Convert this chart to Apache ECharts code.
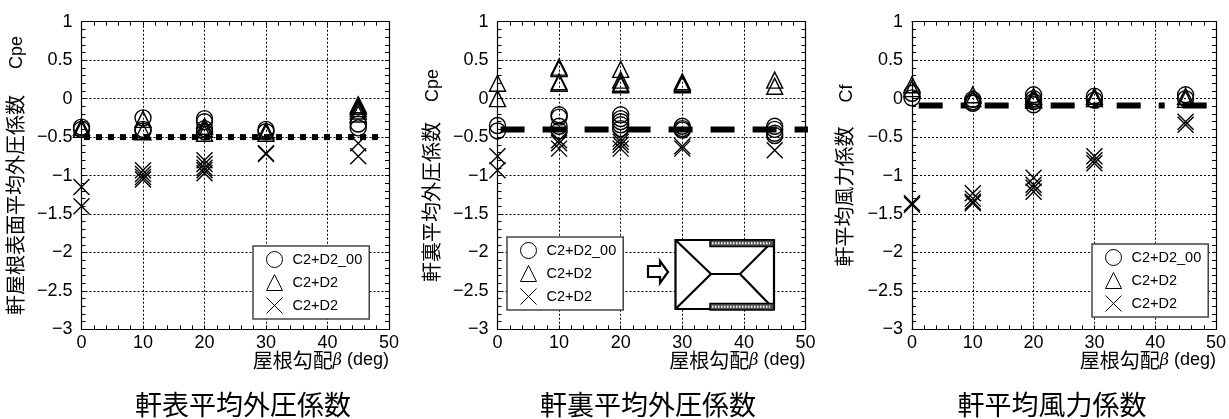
<!DOCTYPE html>
<html><head><meta charset="utf-8">
<style>html,body{margin:0;padding:0;background:#fff}#c{width:1229px;height:419px}</style>
<script src="https://cdn.jsdelivr.net/npm/echarts@6/dist/echarts.min.js"></script>
</head><body><div id="c"></div>
<script>
const seriesNames = ['C2+D2_00', 'C2+D2', 'C2+D2 '];
const chartTitles = ['軒表平均外圧係数', '軒裏平均外圧係数', '軒平均風力係数'];
const yNames = ['軒屋根表面平均外圧係数', '軒裏平均外圧係数', '軒平均風力係数'];
const yUnits = ['Cpe', 'Cpe', 'Cf'];
const xName = '屋根勾配';

const a_circle = [[0,-0.37],[0,-0.4],[10,-0.25],[10,-0.4],[10,-0.42],[20,-0.26],[20,-0.3],[20,-0.39],[20,-0.43],[30,-0.4],[30,-0.43],[45,-0.33],[45,-0.38]];
const a_tri = [[0,-0.37],[0,-0.4],[10,-0.27],[10,-0.43],[20,-0.36],[20,-0.4],[20,-0.45],[30,-0.42],[30,-0.45],[45,-0.08],[45,-0.1],[45,-0.13],[45,-0.16],[45,-0.2]];
const a_cross = [[0,-1.15],[0,-1.4],[10,-0.93],[10,-0.98],[10,-1.02],[10,-1.05],[20,-0.8],[20,-0.85],[20,-0.9],[20,-0.93],[20,-0.97],[30,-0.71],[30,-0.72],[45,-0.58],[45,-0.75]];
const a_line = [[0.4,-0.5],[48.8,-0.5]];

const b_circle = [[0,-0.35],[0,-0.42],[10,-0.21],[10,-0.24],[10,-0.36],[10,-0.42],[20,-0.21],[20,-0.26],[20,-0.3],[20,-0.34],[20,-0.39],[30,-0.36],[30,-0.39],[30,-0.41],[45,-0.36],[45,-0.4],[45,-0.45],[45,-0.48]];
const b_tri = [[0,0.2],[0,0],[10,0.41],[10,0.39],[10,0.22],[10,0.2],[20,0.38],[20,0.24],[20,0.2],[20,0.18],[30,0.22],[30,0.2],[30,0.18],[45,0.24],[45,0.16]];
const b_cross = [[0,-0.75],[0,-0.93],[10,-0.54],[10,-0.58],[10,-0.65],[20,-0.52],[20,-0.56],[20,-0.6],[20,-0.65],[30,-0.62],[30,-0.65],[45,-0.67]];
const b_line = [[0.5,-0.4],[50.4,-0.4]];

const c_circle = [[0,0.07],[0,0.01],[10,-0.01],[10,-0.04],[10,-0.06],[20,0.05],[20,0],[20,-0.04],[20,-0.08],[30,0.03],[30,-0.02],[45,0.05],[45,0]];
const c_tri = [[0,0.18],[0,0.13],[10,0.05],[10,0],[20,0.03],[20,0],[20,-0.02],[30,0.03],[30,0],[45,0.03],[45,-0.01]];
const c_cross = [[0,-1.36],[0,-1.38],[10,-1.23],[10,-1.3],[10,-1.34],[10,-1.36],[20,-1.03],[20,-1.12],[20,-1.16],[20,-1.21],[30,-0.75],[30,-0.8],[30,-0.84],[45,-0.3],[45,-0.34]];
const c_line = [[1.1,-0.09],[48.9,-0.09]];

const SANS = '"Liberation Sans", sans-serif', CJK = '"Noto Sans CJK JP", sans-serif';
const crossPath = 'path://M0 0L16 16M16 0L0 16';
const panels = [
  {left:81.5, right:389, data:[a_circle,a_tri,a_cross], line:a_line, dash:[6,6], legend:[253,246], gap:26, titleX:243, nameGap:55},
  {left:497.5, right:805.5, data:[b_circle,b_tri,b_cross], line:b_line, dash:[24,18], legend:[507,237], gap:20, titleX:648, nameGap:55},
  {left:912, right:1220, data:[c_circle,c_tri,c_cross], line:c_line, dash:[24,18,6,18], legend:[1092,244], gap:24, titleX:1052, nameGap:56}
];
const top0 = 21.7, bottom0 = 329.4;
const grids=[],xAxes=[],yAxes=[],series=[],legends=[],titles=[];
const lineAxis={lineStyle:{color:'#000',width:1.2}};
const split={show:true,lineStyle:{color:'#000',width:1,type:[2,2]}};
panels.forEach((p,i)=>{
  grids.push({left:p.left,width:p.right-p.left,top:top0,height:bottom0-top0,containLabel:false});
  const xBase={type:'value',gridIndex:i,min:0,max:50,interval:10,axisLine:{show:true,onZero:false,...lineAxis},
    axisTick:{show:true,inside:true,length:4,lineStyle:{color:'#000'}},minorTick:{show:true,splitNumber:5,length:4,lineStyle:{color:'#000'}}};
  const yBase={type:'value',gridIndex:i,min:-3,max:1,interval:0.5,axisLine:{show:true,onZero:false,...lineAxis},
    axisTick:{show:true,inside:true,length:4,lineStyle:{color:'#000'}},minorTick:{show:true,splitNumber:5,length:4,lineStyle:{color:'#000'}}};
  xAxes.push({...xBase,position:'bottom',splitLine:split,
    axisLabel:{fontFamily:SANS,fontSize:18,color:'#000',margin:5,showMinLabel:true,showMaxLabel:true},
    name:'{a|'+xName+'}{g|β}{m| (deg)}',nameLocation:'end',nameGap:0,nameMoveOverlap:false,
    nameTextStyle:{align:'right',verticalAlign:'top',padding:[21,0,0,0],rich:{
      a:{fontFamily:CJK,fontSize:20,color:'#000'},g:{fontFamily:'"DejaVu Serif",serif',fontStyle:'italic',fontSize:16,color:'#000'},m:{fontFamily:SANS,fontSize:18,color:'#000'}}}});
  xAxes.push({...xBase,position:'top',axisLabel:{show:false},splitLine:{show:false}});
  yAxes.push({...yBase,position:'left',splitLine:split,
    axisLabel:{fontFamily:SANS,fontSize:18,color:'#000',margin:9,padding:[0,0,9,0],formatter:v=>String(v).replace('-','\u2212')},
    name:'{a|'+yNames[i]+'}{b|'+yUnits[i]+'}',nameLocation:'middle',nameRotate:90,nameGap:p.nameGap,nameMoveOverlap:false,
    nameTextStyle:{rich:{a:{fontFamily:CJK,fontSize:20,color:'#000'},b:{fontFamily:SANS,fontSize:18,color:'#000',padding:[5,0,0,p.gap]}}}});
  yAxes.push({...yBase,position:'right',axisLabel:{show:false},splitLine:{show:false}});
  const xi=i*2,yi=i*2;
  series.push({type:'line',name:'mean'+i,xAxisIndex:xi,yAxisIndex:yi,data:p.line,showSymbol:false,symbol:'none',clip:false,silent:true,z:3,
    lineStyle:{color:'#000',width:6,type:p.dash,cap:'butt'}});
  const syms=['circle','triangle',crossPath];
  p.data.forEach((d,k)=>{
    series.push({type:'scatter',name:seriesNames[k],xAxisIndex:xi,yAxisIndex:yi,data:d,symbol:syms[k],symbolSize:16,clip:false,z:4,
      itemStyle:{color:'rgba(0,0,0,0)',borderColor:'#000',borderWidth:1.4,opacity:1}});
  });
  legends.push({show:true,data:seriesNames,orient:'vertical',left:p.legend[0],top:p.legend[1],z:10,selectedMode:false,
    backgroundColor:'#fff',borderColor:'#444',borderWidth:1.5,borderRadius:0,padding:[5,7,5,13],itemWidth:16,itemHeight:16,itemGap:6,
    textStyle:{fontFamily:SANS,fontSize:14.5,color:'#000',padding:[0,0,0,5]},
    itemStyle:{color:'rgba(0,0,0,0)',borderColor:'#000',borderWidth:1}});
  titles.push({text:chartTitles[i],left:p.titleX,top:391,padding:0,textAlign:'center',textStyle:{fontFamily:CJK,fontWeight:'normal',fontSize:27,color:'#000'}});
});
// inset sketch of the roof plan (chart 2)
const S={stroke:'#000',lineWidth:2.2,fill:'none'};
const inset=[
 {type:'rect',shape:{x:675.5,y:240,width:98.5,height:69},style:{fill:'#fff',stroke:'#000',lineWidth:2.2},z:20},
 {type:'polyline',shape:{points:[[675.5,240],[711,274],[740,274],[774,240]]},style:S,z:21},
 {type:'polyline',shape:{points:[[675.5,309],[711,274]]},style:S,z:21},
 {type:'polyline',shape:{points:[[740,274],[774,309]]},style:S,z:21},
 {type:'rect',shape:{x:710,y:240,width:64,height:6.5},style:{fill:'#555',stroke:'#000',lineWidth:1.5},z:22},
 {type:'rect',shape:{x:710,y:303.5,width:64,height:6.5},style:{fill:'#555',stroke:'#000',lineWidth:1.5},z:22},
 {type:'line',shape:{x1:712,y1:243.2,x2:770,y2:243.2},style:{stroke:'#fff',lineWidth:2,lineDash:[1.5,1.5]},z:23},
 {type:'line',shape:{x1:712,y1:306.8,x2:770,y2:306.8},style:{stroke:'#fff',lineWidth:2,lineDash:[1.5,1.5]},z:23},
 {type:'polygon',shape:{points:[[648,266],[660,266],[660,261],[668,272],[660,283],[660,277],[648,277]]},style:{fill:'#fff',stroke:'#000',lineWidth:2.2},z:23}
];
const chart=echarts.init(document.getElementById('c'),null,{renderer:'canvas'});
chart.setOption({animation:false,backgroundColor:'#fff',title:titles,grid:grids,xAxis:xAxes,yAxis:yAxes,series,legend:legends,graphic:{elements:inset}});
</script></body></html>
